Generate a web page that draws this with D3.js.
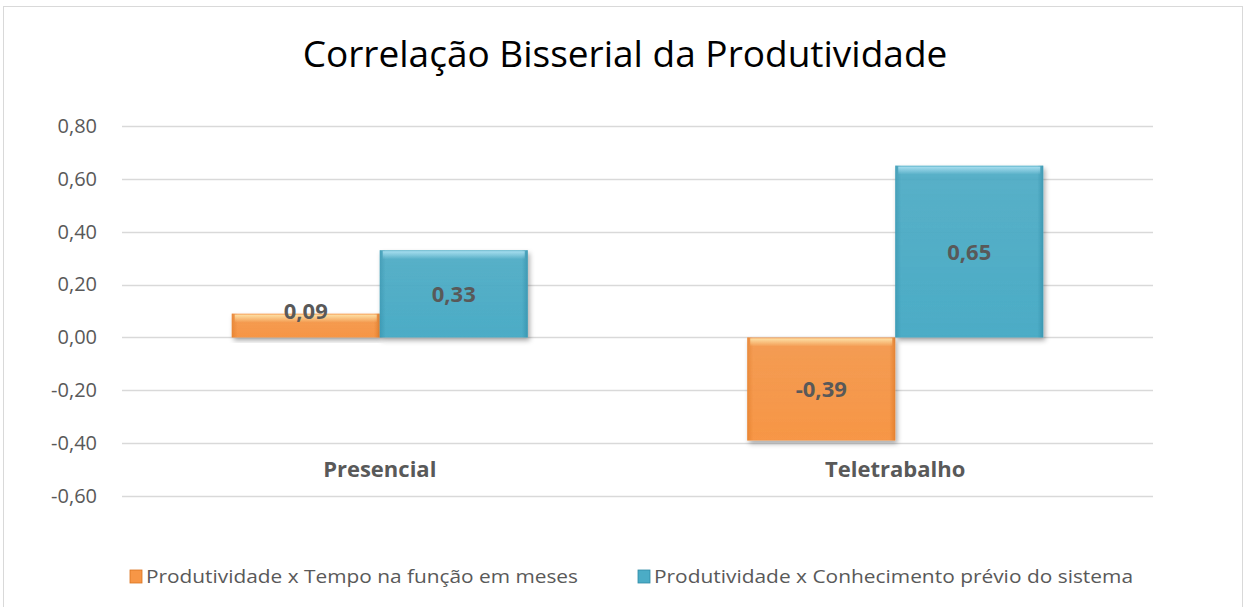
<!DOCTYPE html>
<html>
<head>
<meta charset="utf-8">
<script src="https://cdn.jsdelivr.net/npm/d3@7"></script>
<style>
  body { margin: 0; background: #fff; }
  text { font-family: "Open Sans", "Noto Sans", sans-serif; }
</style>
</head>
<body>
<script>
var categories = ["Presencial", "Teletrabalho"];
var seriesNames = ["Produtividade x Tempo na função em meses",
                   "Produtividade x Conhecimento prévio do sistema"];
var tempoValues = [0.09, -0.39];
var conhecimentoValues = [0.33, 0.65];
var yTicks = [-0.6, -0.4, -0.2, 0, 0.2, 0.4, 0.6, 0.8];

var width = 1246, height = 607;
var margin = {top: 126, right: 93, bottom: 111, left: 122};

var svg = d3.select("body").append("svg")
    .attr("width", width)
    .attr("height", height);

var defs = svg.append("defs");
var colors = [
  {id: "orange", mid: "#f79646", dark: "#d9731f", edge: "#fde3a8"},
  {id: "blue", mid: "#4bacc6", dark: "#2f8aa5", edge: "#a9dff0"}
];
colors.forEach(function(c) {
  var g = defs.append("linearGradient").attr("id", "grad-" + c.id)
      .attr("x1", 0).attr("y1", 0).attr("x2", 0).attr("y2", 1);
  g.append("stop").attr("offset", "0%").attr("stop-color", c.mid).attr("stop-opacity", 0.88);
  g.append("stop").attr("offset", "100%").attr("stop-color", c.mid);
  var h = defs.append("linearGradient").attr("id", "side-" + c.id)
      .attr("x1", 0).attr("y1", 0).attr("x2", 1).attr("y2", 0);
  h.append("stop").attr("offset", "0%").attr("stop-color", c.dark).attr("stop-opacity", 0.5);
  h.append("stop").attr("offset", "4%").attr("stop-color", c.dark).attr("stop-opacity", 0);
  h.append("stop").attr("offset", "96%").attr("stop-color", c.dark).attr("stop-opacity", 0);
  h.append("stop").attr("offset", "100%").attr("stop-color", c.dark).attr("stop-opacity", 0.6);
  var t = defs.append("linearGradient").attr("id", "top-" + c.id)
      .attr("x1", 0).attr("y1", 0).attr("x2", 0).attr("y2", 1);
  t.append("stop").attr("offset", "0%").attr("stop-color", c.edge).attr("stop-opacity", 0.95);
  t.append("stop").attr("offset", "100%").attr("stop-color", c.edge).attr("stop-opacity", 0);
});
var filt = defs.append("filter").attr("id", "shadow")
    .attr("x", "-10%").attr("y", "-10%").attr("width", "130%").attr("height", "130%");
filt.append("feDropShadow").attr("dx", 2).attr("dy", 3).attr("stdDeviation", 2.5)
    .attr("flood-color", "#000").attr("flood-opacity", 0.35);

// outer border
svg.append("rect")
    .attr("x", 3.5).attr("y", 6.5)
    .attr("width", 1239).attr("height", 620)
    .attr("fill", "none").attr("stroke", "#d9d9d9").attr("stroke-width", 1);

svg.append("text")
    .attr("x", 625).attr("y", 67)
    .attr("text-anchor", "middle")
    .attr("font-size", 37)
    .attr("fill", "#000")
    .text("Correlação Bisserial da Produtividade");

var x = d3.scaleBand()
    .domain(categories)
    .range([margin.left, width - margin.right]);

var y = d3.scaleLinear()
    .domain([-0.6, 0.8])
    .range([496, 126]);

var fmt = function(v) { return d3.format(".2f")(v).replace(".", ",").replace("\u2212", "-"); };

// gridlines
svg.append("g")
  .selectAll("line")
  .data(yTicks)
  .enter().append("line")
    .attr("x1", margin.left).attr("x2", width - margin.right)
    .attr("y1", function(d) { return Math.round(y(d)) + 0.5; })
    .attr("y2", function(d) { return Math.round(y(d)) + 0.5; })
    .attr("stroke", "#d9d9d9").attr("stroke-width", 1.3);

var yAxis = svg.append("g")
    .attr("transform", "translate(" + (margin.left - 24) + ",0)")
    .call(d3.axisLeft(y).tickValues(yTicks).tickSize(0).tickFormat(fmt));
yAxis.select(".domain").remove();
yAxis.selectAll("text")
    .attr("font-size", 20)
    .attr("fill", "#595959")
    .attr("font-family", "Open Sans, sans-serif")
    .attr("dx", 2);

var barW = 148;
var rows = categories.map(function(c, i) {
  return [
    {cat: c, v: tempoValues[i], s: 0},
    {cat: c, v: conhecimentoValues[i], s: 1}
  ];
});

var bars = svg.append("g")
  .selectAll("g")
  .data(d3.merge(rows))
  .enter().append("g");

function bx(d) { return x(d.cat) + x.bandwidth() / 2 - barW + d.s * barW; }
function by(d) { return Math.min(y(d.v), y(0)); }
function bh(d) { return Math.abs(y(d.v) - y(0)); }

bars.append("rect")
    .attr("x", bx).attr("y", by)
    .attr("width", barW).attr("height", bh)
    .attr("fill", function(d) { return "url(#grad-" + colors[d.s].id + ")"; })
    .attr("filter", "url(#shadow)");
bars.append("rect")
    .attr("x", bx).attr("y", by)
    .attr("width", barW).attr("height", bh)
    .attr("fill", function(d) { return "url(#side-" + colors[d.s].id + ")"; });
// bevel highlight on top edge
bars.append("rect")
    .attr("x", function(d) { return bx(d) + 3; })
    .attr("y", function(d) { return by(d) + 1; })
    .attr("width", barW - 6)
    .attr("height", function(d) { return Math.min(8, bh(d) / 2.5); })
    .attr("fill", function(d) { return "url(#top-" + colors[d.s].id + ")"; });

bars.append("text")
    .attr("x", function(d) { return bx(d) + barW / 2; })
    .attr("y", function(d) {
      if (bh(d) < 40) return by(d) + 5;
      return by(d) + bh(d) / 2 + 8;
    })
    .attr("text-anchor", "middle")
    .attr("font-size", 22)
    .attr("font-weight", "bold")
    .attr("fill", "#595959")
    .text(function(d) { return fmt(d.v); });

// category labels
svg.append("g")
  .selectAll("text")
  .data(categories)
  .enter().append("text")
    .attr("x", function(d) { return x(d) + x.bandwidth() / 2; })
    .attr("y", 477)
    .attr("text-anchor", "middle")
    .attr("font-size", 22)
    .attr("font-weight", "bold")
    .attr("fill", "#595959")
    .text(function(d) { return d; });

// legend
var legendX = [130, 638];
var legendLen = [432, 479];
var legend = svg.append("g")
  .selectAll("g")
  .data(seriesNames)
  .enter().append("g")
    .attr("transform", function(d, i) { return "translate(" + legendX[i] + ",570)"; });
legend.append("rect")
    .attr("width", 12).attr("height", 13)
    .attr("fill", function(d, i) { return colors[i].mid; })
    .attr("stroke", function(d, i) { return colors[i].dark; })
    .attr("stroke-width", 0.8);
legend.append("text")
    .attr("x", 16).attr("y", 13)
    .attr("font-size", 19)
    .attr("fill", "#595959")
    .attr("textLength", function(d, i) { return legendLen[i]; })
    .attr("lengthAdjust", "spacingAndGlyphs")
    .text(function(d) { return d; });
</script>
</body>
</html>
